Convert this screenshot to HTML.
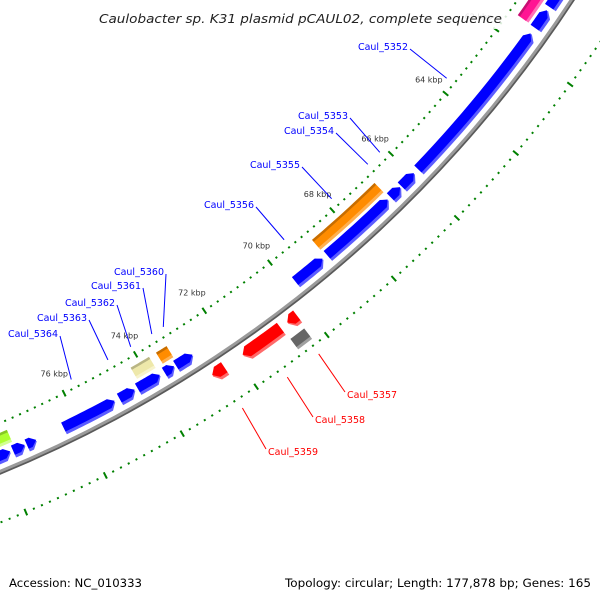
<!DOCTYPE html>
<html><head><meta charset="utf-8"><style>
html,body{margin:0;padding:0;background:#fff;}
svg{display:block;}
</style></head><body>
<svg id="map" width="600" height="600" viewBox="0 0 600 600" xmlns="http://www.w3.org/2000/svg">
<rect width="600" height="600" fill="#fff"/>
<g id="ticks"></g>
<g id="feats"></g>
<g id="labels"></g>
<rect x="95" y="5" width="412" height="24" fill="#fff" fill-opacity="0.85"/>
<text x="99" y="23" font-family="DejaVu Sans, Liberation Sans, sans-serif" font-style="italic" font-size="12.5" fill="#222" textLength="403" lengthAdjust="spacingAndGlyphs">Caulobacter sp. K31 plasmid pCAUL02, complete sequence</text>
<text x="9" y="587" font-family="DejaVu Sans, Liberation Sans, sans-serif" font-size="11.5" fill="#000" textLength="133" lengthAdjust="spacingAndGlyphs">Accession: NC_010333</text>
<text x="285" y="587" font-family="DejaVu Sans, Liberation Sans, sans-serif" font-size="11.5" fill="#000" textLength="306" lengthAdjust="spacingAndGlyphs">Topology: circular; Length: 177,878 bp; Genes: 165</text>
</svg>
<script>
// ---- data ----
const featStart = [58.0, 60.9, 61.58, 65.95, 66.42, 66.84, 68.95, 72.83, 73.35, 73.75, 74.45, 75.0, 77.1, 77.4, 77.78,
                   59.0, 66.79, 73.25, 73.75, 77.65,
                   70.27, 70.75, 72.36, 70.32];
const featEnd   = [60.8, 61.41, 65.81, 66.38, 66.75, 68.81, 69.8, 73.3, 73.62, 74.37, 74.87, 76.38, 77.35, 77.71, 79.0,
                   61.4, 68.85, 73.55, 74.27, 79.5,
                   70.55, 71.84, 72.7, 70.72];
const featTrack = [1,1,1,1,1,1,1,1,1,1,1,1,1,1,1, 0,0,0,0,0, 2,2,2,3];
const featDir   = [-1,-1,-1,-1,-1,-1,-1,-1,-1,-1,-1,-1,-1,-1,-1, 0,0,0,0,0, 1,1,1,0];
const featColor = ["#0000ff","#0000ff","#0000ff","#0000ff","#0000ff","#0000ff","#0000ff","#0000ff","#0000ff","#0000ff","#0000ff","#0000ff","#0000ff","#0000ff","#0000ff",
                   "#ff1493","#ff8c00","#ff8c00","#eee8aa","#adff2f",
                   "#ff0000","#ff0000","#ff0000","#666666"];
const featLight = ["#5c5cff","#5c5cff","#5c5cff","#5c5cff","#5c5cff","#5c5cff","#5c5cff","#5c5cff","#5c5cff","#5c5cff","#5c5cff","#5c5cff","#5c5cff","#5c5cff","#5c5cff",
                   "#ff70b8","#ffb050","#ffb050","#f7f3cc","#d2ff90",
                   "#ff6a6a","#ff6a6a","#ff6a6a","#a0a0a0"];
const labelNames = ["Caul_5352","Caul_5353","Caul_5354","Caul_5355","Caul_5356","Caul_5360","Caul_5361","Caul_5362","Caul_5363","Caul_5364","Caul_5357","Caul_5358","Caul_5359"];
const labelFeat  = [2,3,4,16,6,7,17,18,10,11,20,21,22];
const tickStartKbp = 54, tickEndKbp = 82;
// ---- layout (not data) ----
const CX = -480, CY = -692, BACKBONE = 1259;
const trackR = [[1223,1236],[1239,1252],[1266,1281],[1287,1300]];
const labelAnchor = [[410,49],[350,118],[336,133],[302,167],[256,207],[166,274],[143,288],[117,305],[89,320],[60,336],[345,392],[313,417],[266,449]];
const DEG0 = 40.32, DEGPERKBP = 1.921;
function ang(k){ return (DEG0 + (k-64)*DEGPERKBP)*Math.PI/180; }
function pt(r,k){ const a=ang(k); return [CX + r*Math.cos(a), CY + r*Math.sin(a)]; }
const NS="http://www.w3.org/2000/svg";
function mk(tag, attrs, parent){ const e=document.createElementNS(NS,tag); for(const k in attrs) e.setAttribute(k, attrs[k]); parent.appendChild(e); return e; }

// backbone
const fg = document.getElementById('feats');
function arcPath(r,k1,k2){ const p1=pt(r,k1), p2=pt(r,k2); return `M${p1[0]},${p1[1]} A${r},${r} 0 0 1 ${p2[0]},${p2[1]}`; }
const bbShadow = mk('path',{d:arcPath(BACKBONE+1.6,50,90),fill:'none',stroke:'#5a5a5a','stroke-width':2.2},fg);


const bb = mk('path',{d:arcPath(BACKBONE-0.5,50,90),fill:'none',stroke:'#9a9a9a','stroke-width':3},fg);



// ticks
const tg = document.getElementById('ticks');
const rings = [1214, 1306];
for (let ri=0; ri<rings.length; ri++){
  const r = rings[ri];
  for (let i = tickStartKbp*5; i <= tickEndKbp*5; i++){
    const k = i/5;
    const major = (i % 10 === 0);
    const h = major ? 3.5 : 1;
    const a = pt(r-h,k), b = pt(r+h,k);
    const ln = mk('line',{x1:a[0],y1:a[1],x2:b[0],y2:b[1],stroke:'#008000','stroke-width':2},tg);
    
    
    if (major && ri===0){
      const p = pt(1192,k);
      const t = mk('text',{x:p[0],y:p[1]+3,'text-anchor':'middle','font-family':'DejaVu Sans, Liberation Sans, sans-serif','font-size':8,fill:'#333'},tg);
      t.textContent = k + ' kbp';
      
      
    }
  }
}

// features
function shape(k1,k2,r1,r2,dir){
  const rpk = DEGPERKBP*Math.PI/180;
  const rm=(r1+r2)/2;
  let h = dir===0 ? 0 : 6/(rm*rpk);
  if (h > (k2-k1)*0.6) h = (k2-k1)*0.6;
  const a = dir===-1 ? k1+h : k1, b = dir===1 ? k2-h : k2;
  const pts=[]; const n=12;
  for(let i=0;i<=n;i++) pts.push(pt(r2, a+(b-a)*i/n));
  if (dir===1) pts.push(pt(rm,k2));
  for(let i=n;i>=0;i--) pts.push(pt(r1, a+(b-a)*i/n));
  if (dir===-1) pts.push(pt(rm,k1));
  return pts.map(p=>p[0].toFixed(2)+','+p[1].toFixed(2)).join(' ');
}
for (let i=0;i<featStart.length;i++){
  const tr = trackR[featTrack[i]];
  const g = mk('g',{},fg);
  
  
  mk('polygon',{points:shape(featStart[i],featEnd[i],tr[0],tr[1],featDir[i]),fill:featLight[i]},g);
  mk('polygon',{points:shape(featStart[i],featEnd[i],tr[0],tr[1]-3,featDir[i]),fill:featColor[i]},g);
  if (featTrack[i]===0){
    mk('polygon',{points:shape(featStart[i],featEnd[i],tr[0],tr[0]+2.5,0),fill:'#000','fill-opacity':0.22},g);
  }
}

// labels
const lg = document.getElementById('labels');
for (let i=0;i<labelNames.length;i++){
  const f = labelFeat[i];
  const isRed = featTrack[f]===2;
  const mid = (featStart[f]+featEnd[f])/2;
  const e = pt(isRed ? 1316 : 1205, mid);
  const [lx,ly] = labelAnchor[i];
  const col = isRed ? '#ff0000' : '#0000ff';
  const ln = mk('line',{x1:lx,y1:ly,x2:e[0],y2:e[1],stroke:col,'stroke-width':1},lg);
  
  
  const t = mk('text',{x: isRed ? lx+2 : lx-2, y: isRed ? ly+6 : ly+1,'text-anchor': isRed?'start':'end','font-family':'DejaVu Sans, Liberation Sans, sans-serif','font-size':9.5,fill:col},lg);
  t.textContent = labelNames[i];
  
  
}
</script>
</body></html>
